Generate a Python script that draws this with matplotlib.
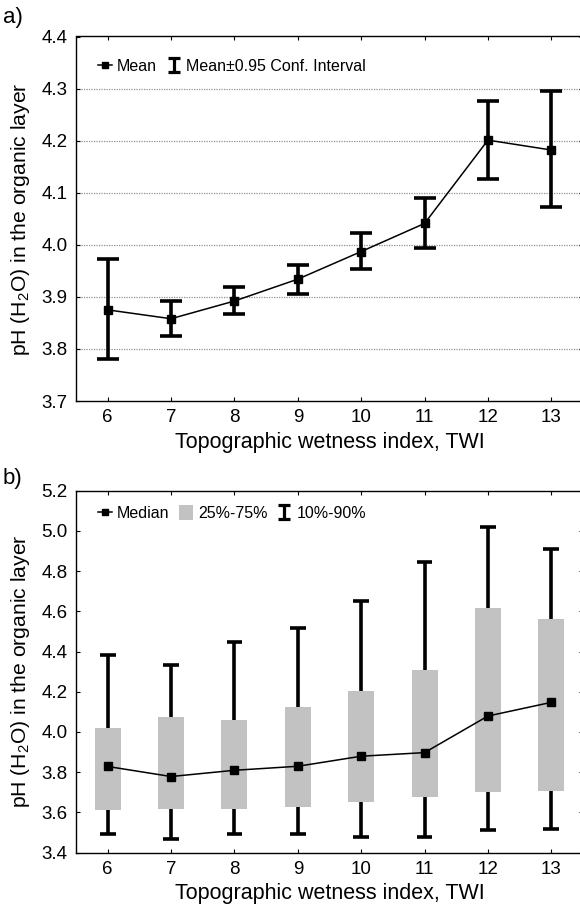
import matplotlib
matplotlib.use("Agg")
import matplotlib.pyplot as plt
from matplotlib.lines import Line2D
from matplotlib.patches import Patch
from matplotlib.path import Path
import numpy as np

plt.rcParams['font.family'] = ['Liberation Sans', 'DejaVu Sans']
plt.rcParams['mathtext.fontset'] = 'custom'
plt.rcParams['mathtext.rm'] = 'Liberation Sans'
plt.rcParams['mathtext.it'] = 'Liberation Sans:italic'

# ---- data ----
twi = [6, 7, 8, 9, 10, 11, 12, 13]

mean_ph = [3.875, 3.858, 3.892, 3.934, 3.987, 4.041, 4.201, 4.182]
ci_upper = [3.973, 3.892, 3.918, 3.961, 4.022, 4.089, 4.277, 4.296]
ci_lower = [3.780, 3.825, 3.867, 3.906, 3.953, 3.993, 4.127, 4.072]

median_ph = [3.828, 3.778, 3.809, 3.829, 3.879, 3.897, 4.079, 4.147]
q25 = [3.612, 3.617, 3.617, 3.625, 3.650, 3.678, 3.703, 3.708]
q75 = [4.018, 4.073, 4.060, 4.123, 4.202, 4.310, 4.617, 4.560]
p10 = [3.491, 3.468, 3.491, 3.491, 3.476, 3.476, 3.513, 3.519]
p90 = [4.383, 4.333, 4.449, 4.519, 4.651, 4.847, 5.021, 4.908]

yticks_a = [3.7, 3.8, 3.9, 4.0, 4.1, 4.2, 4.3, 4.4]
yticks_b = [3.4, 3.6, 3.8, 4.0, 4.2, 4.4, 4.6, 4.8, 5.0, 5.2]

xlabel = "Topographic wetness index, TWI"
ylabel = "pH (H$_2$O) in the organic layer"

W, H = 580, 905
fig = plt.figure(figsize=(W / 100, H / 100), dpi=100)

def px_axes(left, top, right, bottom):
    return fig.add_axes([left / W, 1 - bottom / H, (right - left) / W, (bottom - top) / H])

ax1 = px_axes(76, 36.5, 583, 401)
ax2 = px_axes(76, 490.7, 583, 852.5)

ibeam = Path([(-0.8, 1), (0.8, 1), (0, 1), (0, -1), (-0.8, -1), (0.8, -1)],
             [Path.MOVETO, Path.LINETO, Path.MOVETO, Path.LINETO, Path.MOVETO, Path.LINETO])

def style_axes(ax, yticks):
    ax.set_xlim(5.5, 13.5)
    ax.set_ylim(yticks[0], yticks[-1])
    ax.set_xticks(twi)
    ax.set_yticks(yticks)
    ax.set_yticklabels([f"{v:.1f}" for v in yticks])
    ax.tick_params(direction='in', length=3, width=0.8, top=True, right=True,
                   labelsize=13.5, pad=6, colors='black')
    ax.tick_params(axis='y', pad=6, length=0)
    ax.tick_params(axis='y', which='major', right=True, length=3)
    for s in ax.spines.values():
        s.set_linewidth(1.0)
    ax.set_xlabel(xlabel, fontsize=15.5, labelpad=4)
    ax.set_ylabel(ylabel, fontsize=15.2, labelpad=7)

# ---- panel a ----
style_axes(ax1, yticks_a)
for v in yticks_a[1:-1]:
    ax1.axhline(v, color='#909090', lw=0.9, ls=(0, (1, 1)), zorder=0)
m = np.array(mean_ph)
yerr = [m - np.array(ci_lower), np.array(ci_upper) - m]
ax1.errorbar(twi, mean_ph, yerr=yerr, fmt='none', ecolor='black', elinewidth=2.6,
             capsize=8, capthick=2.6, zorder=3)
ax1.plot(twi, mean_ph, color='black', lw=1.1, marker='s', ms=5.5, zorder=4)

h_mean = Line2D([], [], color='black', lw=1.1, marker='s', ms=4.5)
h_ci = Line2D([], [], color='black', lw=0, marker=ibeam, ms=10, mew=2.3)
ax1.legend([h_mean, h_ci], ["Mean", "Mean\u00b10.95 Conf. Interval"], ncol=2,
           loc='center left', bbox_to_anchor=(0.03, 0.919), frameon=False,
           fontsize=11.5, handlelength=0.9, handletextpad=0.3, columnspacing=0.6,
           borderaxespad=0)

# ---- panel b ----
style_axes(ax2, yticks_b)
box_w = 0.41
for x, lo, hi, w10, w90 in zip(twi, q25, q75, p10, p90):
    ax2.bar(x, hi - lo, bottom=lo, width=box_w, color='#c2c2c2', edgecolor='none', zorder=2)
    ax2.vlines(x, w10, lo, color='black', lw=2.6, zorder=3)
    ax2.vlines(x, hi, w90, color='black', lw=2.6, zorder=3)
    ax2.hlines([w10, w90], x - 0.125, x + 0.125, color='black', lw=2.6, zorder=3)
ax2.plot(twi, median_ph, color='black', lw=1.1, marker='s', ms=5.5, zorder=4)

h_med = Line2D([], [], color='black', lw=1.1, marker='s', ms=4.5)
h_box = Patch(facecolor='#c2c2c2', edgecolor='none')
h_whisk = Line2D([], [], color='black', lw=0, marker=ibeam, ms=10, mew=2.3)
ax2.legend([h_med, h_box, h_whisk], ["Median", "25%-75%", "10%-90%"], ncol=3,
           loc='center left', bbox_to_anchor=(0.03, 0.938), frameon=False,
           fontsize=11.5, handlelength=0.9, handleheight=1.1, handletextpad=0.3,
           columnspacing=0.6, borderaxespad=0)

fig.text(3 / W, 1 - 18 / H, "a)", fontsize=16, va='center', ha='left')
fig.text(3 / W, 1 - 478 / H, "b)", fontsize=16, va='center', ha='left')

fig.savefig("out.png", dpi=100)
